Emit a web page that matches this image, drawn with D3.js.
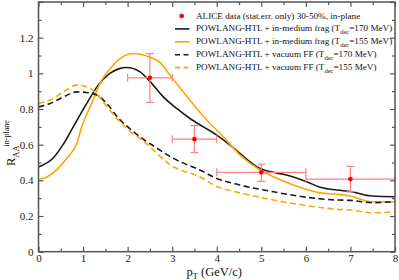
<!DOCTYPE html>
<html><head><meta charset="utf-8">
<script src="https://cdn.jsdelivr.net/npm/d3@7"></script>
<style>
body{margin:0;background:#fff;}
svg{display:block;}
</style></head>
<body><svg id="c" width="399" height="280"></svg>
<script>
// ---- data ----
const medT170_x = [0,0.33,0.55,0.78,1.08,1.34,1.6,1.8,1.98,2.28,2.5,2.8,3.1,3.4,3.7,4.0,4.3,4.52,4.97,5.27,5.49,6.02,6.32,6.69,7.03,7.48,8];
const medT170_y = [0.475,0.525,0.60,0.70,0.83,0.934,1.0,1.025,1.033,1.008,0.955,0.868,0.803,0.747,0.70,0.654,0.598,0.551,0.467,0.445,0.434,0.392,0.361,0.346,0.336,0.312,0.308];
const medT155_x = [0,0.1,0.35,0.63,0.86,0.97,1.19,1.42,1.64,1.83,2.13,2.5,2.73,2.95,3.25,3.55,3.85,4.15,4.52,4.97,5.27,5.72,6.32,6.69,6.99,7.48,8];
const medT155_y = [0.405,0.41,0.448,0.523,0.607,0.70,0.83,0.962,1.036,1.083,1.111,1.09,1.06,0.99,0.896,0.803,0.719,0.644,0.542,0.458,0.42,0.374,0.33,0.322,0.312,0.28,0.28];
const vacT170_x = [0,0.26,0.56,0.86,1.08,1.31,1.53,1.79,2.05,2.3,2.6,3.03,3.62,4.0,4.52,5.27,6.02,6.69,7.0,7.48,8];
const vacT170_y = [0.812,0.831,0.868,0.896,0.893,0.878,0.831,0.75,0.69,0.64,0.59,0.523,0.458,0.411,0.374,0.336,0.305,0.29,0.288,0.275,0.28];
const vacT155_x = [0,0.26,0.56,0.86,1.08,1.31,1.53,1.79,2.05,2.3,3.03,3.62,4.0,4.52,5.27,6.02,6.69,6.99,7.48,8];
const vacT155_y = [0.831,0.85,0.896,0.934,0.924,0.885,0.815,0.738,0.675,0.63,0.476,0.42,0.366,0.33,0.29,0.258,0.238,0.234,0.218,0.224];

const alice_x   = [2.5, 3.5, 5, 7];
const alice_y   = [0.975, 0.631, 0.445, 0.407];
const alice_xlo = [2, 3, 4, 6];
const alice_xhi = [3, 4, 6, 8];
const alice_ylo = [0.837, 0.556, 0.394, 0.336];
const alice_yhi = [1.111, 0.707, 0.491, 0.478];

const xMajor = [0,1,2,3,4,5,6,7,8];
const xMinor = [0.5,1.5,2.5,3.5,4.5,5.5,6.5,7.5];
const yMajor = [0,0.2,0.4,0.6,0.8,1,1.2,1.4];
const yLabels = ["0","0.2","0.4","0.6","0.8","1","1.2",""];
const yMinor = [0.1,0.3,0.5,0.7,0.9,1.1,1.3];

const legendLabels = [
  ["ALICE data (stat.err. only) 30-50%, in-plane"],
  ["POWLANG-HTL + in-medium frag (T","dec","=170 MeV)"],
  ["POWLANG-HTL + in-medium frag (T","dec","=155 MeV)"],
  ["POWLANG-HTL + vacuum FF (T","dec","=170 MeV)"],
  ["POWLANG-HTL + vacuum FF (T","dec","=155 MeV)"]
];

// ---- pick an installed serif font ----
const cv = document.createElement("canvas").getContext("2d");
function w(f){ cv.font = "40px " + f; return cv.measureText("POWLANG-HTL (GeV/c) 0.8 in-plane").width; }
const base1 = w('"NoSuchFontXYZ", monospace'), base2 = w('"NoSuchFontXYZ", sans-serif');
function has(name){ const a = w('"'+name+'", monospace'), b = w('"'+name+'", sans-serif'); return a===b && (a!==base1 || b!==base2); }
const cands = ["Liberation Serif","Tinos","DejaVu Serif","Times New Roman","Noto Serif","Nimbus Roman","FreeSerif","Liberation Sans","Arimo"];
let FONT = "sans-serif";
for(const c of cands){ if(has(c)){ FONT = '"'+c+'"'; break; } }

// ---- layout ----
const L = 38.5, R = 395, T = 2, B = 251.7;
const svg = d3.select("#c").attr("font-family", FONT);
const x = d3.scaleLinear().domain([0,8]).range([L,R]);
const y = d3.scaleLinear().domain([0,1.4]).range([B,T]);

const BLACK = "#1a1a1a", ORANGE = "#ffa500", RED = "#ff0000", PINK = "#ff8080", AX = "#555";

function styleAxis(g){ g.attr("font-family",FONT).attr("font-size",null); g.select(".domain").remove(); g.selectAll("line").attr("stroke",AX).attr("stroke-width",1.2); g.selectAll("text").attr("fill","#222").style("font-size","11px"); }
svg.append("g").attr("transform",`translate(0,${B})`).call(d3.axisBottom(x).tickValues(xMajor).tickSize(-5).tickPadding(2.5).tickFormat(d3.format("d"))).call(styleAxis);
svg.append("g").attr("transform",`translate(0,${B})`).call(d3.axisBottom(x).tickValues(xMinor).tickSize(-3).tickFormat("")).call(styleAxis);
svg.append("g").attr("transform",`translate(0,${T})`).call(d3.axisTop(x).tickValues(xMajor).tickSize(-5).tickFormat("")).call(styleAxis);
svg.append("g").attr("transform",`translate(0,${T})`).call(d3.axisTop(x).tickValues(xMinor).tickSize(-3).tickFormat("")).call(styleAxis);
svg.append("g").attr("transform",`translate(${L},0)`).call(d3.axisLeft(y).tickValues(yMajor).tickSize(-5).tickPadding(5).tickFormat((d,i)=>yLabels[i])).call(styleAxis);
svg.append("g").attr("transform",`translate(${L},0)`).call(d3.axisLeft(y).tickValues(yMinor).tickSize(-3).tickFormat("")).call(styleAxis);
svg.append("g").attr("transform",`translate(${R},0)`).call(d3.axisRight(y).tickValues(yMajor).tickSize(-5).tickFormat("")).call(styleAxis);
svg.append("g").attr("transform",`translate(${R},0)`).call(d3.axisRight(y).tickValues(yMinor).tickSize(-3).tickFormat("")).call(styleAxis);

// curves
const line = d3.line().x(d=>x(d[0])).y(d=>y(d[1])).curve(d3.curveMonotoneX);
const series = [
  {xs:medT170_x, ys:medT170_y, c:BLACK, dash:null},
  {xs:medT155_x, ys:medT155_y, c:ORANGE, dash:null},
  {xs:vacT170_x, ys:vacT170_y, c:BLACK, dash:"6,3.5"},
  {xs:vacT155_x, ys:vacT155_y, c:ORANGE, dash:"6,3.5"}
];
svg.append("clipPath").attr("id","pc").append("rect").attr("x",L).attr("y",T).attr("width",R-L).attr("height",B-T);
const gc = svg.append("g").attr("clip-path","url(#pc)");
series.forEach(s=>{
  gc.append("path").datum(d3.zip(s.xs,s.ys)).attr("d",line).attr("fill","none")
    .attr("stroke",s.c).attr("stroke-width",1.6).attr("stroke-dasharray",s.dash);
});

// data points with error bars
const gd = svg.append("g");
alice_x.forEach((xv,i)=>{
  const cx = x(xv), cy = y(alice_y[i]);
  gd.append("line").attr("x1",x(alice_xlo[i])).attr("x2",x(alice_xhi[i])).attr("y1",cy).attr("y2",cy).attr("stroke",PINK).attr("stroke-width",1.2);
  gd.append("line").attr("x1",cx).attr("x2",cx).attr("y1",y(alice_ylo[i])).attr("y2",y(alice_yhi[i])).attr("stroke",PINK).attr("stroke-width",1.2);
  [alice_xlo[i],alice_xhi[i]].forEach(e=>gd.append("line").attr("x1",x(e)).attr("x2",x(e)).attr("y1",cy-4).attr("y2",cy+4).attr("stroke",PINK).attr("stroke-width",1.2));
  [alice_ylo[i],alice_yhi[i]].forEach(e=>gd.append("line").attr("x1",cx-4).attr("x2",cx+4).attr("y1",y(e)).attr("y2",y(e)).attr("stroke",PINK).attr("stroke-width",1.2));
  gd.append("circle").attr("cx",cx).attr("cy",cy).attr("r",2.3).attr("fill",RED);
});

// frame
svg.append("rect").attr("x",L).attr("y",T).attr("width",R-L).attr("height",B-T).attr("fill","none").attr("stroke",AX).attr("stroke-width",1.5);

// legend
const lg = svg.append("g");
const legStyles = [null, series[0], series[1], series[2], series[3]];
const legTexts = [];
legendLabels.forEach((parts,i)=>{
  const ry = 16 + i*12.9;
  if(i===0){
    lg.append("circle").attr("cx",181.7).attr("cy",ry).attr("r",2.3).attr("fill",RED);
  } else {
    const s = legStyles[i];
    lg.append("line").attr("x1",175).attr("x2",189.5).attr("y1",ry).attr("y2",ry).attr("stroke",s.c).attr("stroke-width",1.6).attr("stroke-dasharray",s.dash ? "5,3.5" : null);
  }
  const t = lg.append("text").attr("x",196).attr("y",ry+2.5).attr("fill","#111").style("font-size","10px");
  t.append("tspan").text(parts[0]);
  if(parts.length>1){
    t.append("tspan").attr("dy",2.5).style("font-size","6.5px").text(parts[1]);
    t.append("tspan").attr("dy",-2.5).text(parts[2]);
  }
  legTexts.push(t);
});
// fit the widest legend entry inside the frame (ends near x=394)
const maxW = d3.max(legTexts, t=>t.node().getComputedTextLength());
if(maxW > 196){
  const k = 196/maxW;
  legTexts.forEach(t=>{ t.style("font-size",(10*k)+"px"); t.selectAll("tspan").each(function(){ const fs=parseFloat(this.style.fontSize); if(fs) d3.select(this).style("font-size",(fs*(fs<8?1:k))+"px"); }); });
}

// axis titles
const xt = svg.append("text").attr("x",186.5).attr("y",275.5).attr("fill","#111").style("font-size","12.5px");
xt.append("tspan").text("p");
xt.append("tspan").attr("dy",3).style("font-size","8.5px").text("T");
xt.append("tspan").attr("dy",-3).text(" (GeV/c)");

const yt = svg.append("text").attr("transform","translate(15,166) rotate(-90)").attr("fill","#111").style("font-size","12.5px");
yt.append("tspan").text("R");
yt.append("tspan").attr("dy",3.5).style("font-size","8.5px").text("AA");
yt.append("tspan").attr("dy",-9.5).attr("dx",-1).style("font-size","8px").text("in-plane");
</script></body></html>
